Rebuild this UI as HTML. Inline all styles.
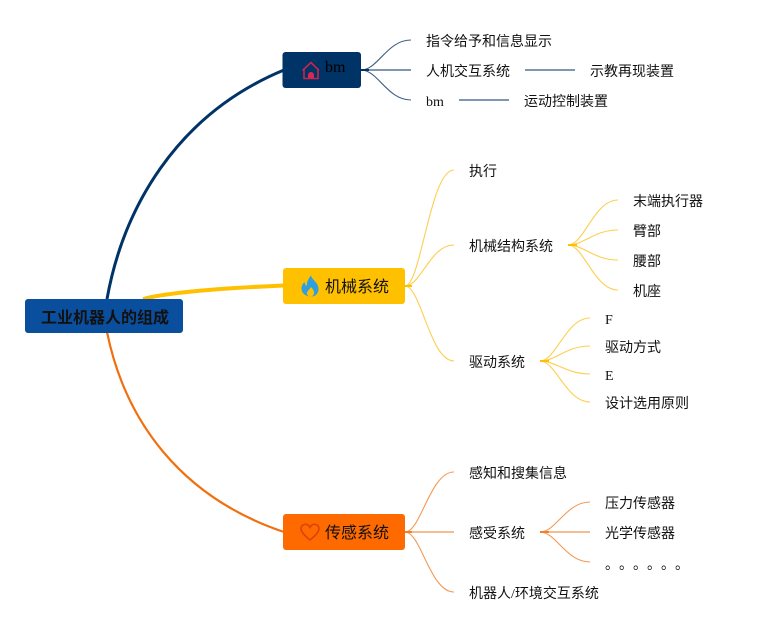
<!DOCTYPE html>
<html><head><meta charset="utf-8"><style>
html,body{margin:0;padding:0;background:#fff;width:763px;height:632px;overflow:hidden}
svg{display:block}
text{font-family:"Liberation Serif","Noto Sans CJK SC",serif;font-size:14px;fill:#111}
.n{font-size:16px}
path{fill:none}
</style></head><body>
<svg width="763" height="632" viewBox="0 0 763 632">
<path d="M107 299C123 210 175 115 284 70" stroke="#003366" stroke-width="3"/>
<path d="M107 332C125 420 180 497 284 532" stroke="#F0700F" stroke-width="2.2"/>
<path d="M143 299C170 292 225 288 284 285.500" stroke="#FFC000" stroke-width="4"/>
<g stroke="#3F6187" stroke-width="1.100">
<path d="M361 70C378 70 387 40 411 40"/><path d="M361 70C378 70 387 100 411 100"/>
</g>
<g stroke="#7F97B2" stroke-width="2"><path d="M361 70H411"/><path d="M525 70H575"/><path d="M459 100H509"/></g>
<path d="M361 70H369" stroke="#003366" stroke-width="2"/>
<g stroke="#FDCE4E" stroke-width="1.100">
<path d="M405 286C421 286 430 170 454 170"/><path d="M405 286C421 286 430 245 454 245"/><path d="M405 286C421 286 430 361 454 361"/>
<path d="M568 245C584 245 594 200 618 200"/><path d="M568 245C584 245 594 230 618 230"/><path d="M568 245C584 245 594 260 618 260"/><path d="M568 245C584 245 594 290 618 290"/>
<path d="M540 361C556 361 566 318 590 318"/><path d="M540 361C556 361 566 346 590 346"/><path d="M540 361C556 361 566 374 590 374"/><path d="M540 361C556 361 566 402 590 402"/>
</g>
<path d="M405 286H412M568 245H577M540 361H549" stroke="#FFC000" stroke-width="2"/>
<g stroke="#F29A58" stroke-width="1.100">
<path d="M405 532C421 532 430 472 454 472"/><path d="M405 532C421 532 430 592 454 592"/>
<path d="M540 532C556 532 566 502 590 502"/><path d="M540 532C556 532 566 562 590 562"/>
</g>
<path d="M405 532H454M540 532H590" stroke="#F5BE92" stroke-width="2"/>
<path d="M405 532H412M540 532H549" stroke="#F0802A" stroke-width="2"/>

<rect x="25" y="299" width="158" height="34" rx="3" fill="#0A4F9E"/>
<rect x="282.500" y="52" width="78.500" height="36" rx="3" fill="#003366"/>
<rect x="283" y="268" width="122" height="36" rx="3" fill="#FFC000"/>
<rect x="283" y="514" width="122" height="36" rx="3" fill="#FF6A00"/>

<path d="M302.500 70.500L311 62.500L319 70.500M304 69V78.500H318V69" stroke="#C2274F" stroke-width="1.600"/>
<path d="M308 78.500V75a3 3 0 0 1 6 0V78.500Z" style="fill:#D42A52"/>
<path style="fill:#2E9FDF" d="M311 275.500C312 280 318.500 282.500 318.500 289C318.500 293.500 315.500 296.500 311 296.500C305.500 296.500 301.500 293 301.500 288.500C301.500 285.500 303 283.500 304.500 282C304.800 284 305.500 285.500 306.800 286C306.500 282 308.500 278.500 311 275.500Z"/>
<path style="fill:#FFC000" d="M311 287C312.800 289 314.500 291 314 293.500C313.500 295.500 312 296.500 310.500 296.500C308.500 296.500 306.800 295 307 293C307.200 291 309.500 289.500 311 287Z"/>
<path d="M310 540C304.500 535.500 301 532 301 528.500C301 526 303.200 524.300 305.500 524.300C307.500 524.300 309 525.500 310 527.500C311 525.500 312.500 524.300 314.500 524.300C316.800 524.300 319 526 319 528.500C319 532 315.500 535.500 310 540Z" stroke="#D9420B" stroke-width="1.500"/>

<text class="n" x="41" y="323" style="font-weight:bold">工业机器人的组成</text>
<text class="n" x="325" y="72" style="fill:#000">bm</text>
<text class="n" x="325" y="292">机械系统</text>
<text class="n" x="325" y="538">传感系统</text>

<text x="426" y="46">指令给予和信息显示</text>
<text x="426" y="76">人机交互系统</text>
<text x="590" y="76">示教再现装置</text>
<text x="426" y="106">bm</text>
<text x="524" y="106">运动控制装置</text>

<text x="469" y="176">执行</text>
<text x="469" y="251">机械结构系统</text>
<text x="633" y="206">末端执行器</text>
<text x="633" y="236">臂部</text>
<text x="633" y="266">腰部</text>
<text x="633" y="296">机座</text>
<text x="469" y="367">驱动系统</text>
<text x="605" y="324">F</text>
<text x="605" y="352">驱动方式</text>
<text x="605" y="380">E</text>
<text x="605" y="408">设计选用原则</text>

<text x="469" y="478">感知和搜集信息</text>
<text x="469" y="538">感受系统</text>
<text x="605" y="508">压力传感器</text>
<text x="605" y="538">光学传感器</text>
<text x="605 619 633 647 661 675" y="569">。。。。。。</text>
<text x="469" y="598">机器人/环境交互系统</text>
</svg>
</body></html>
